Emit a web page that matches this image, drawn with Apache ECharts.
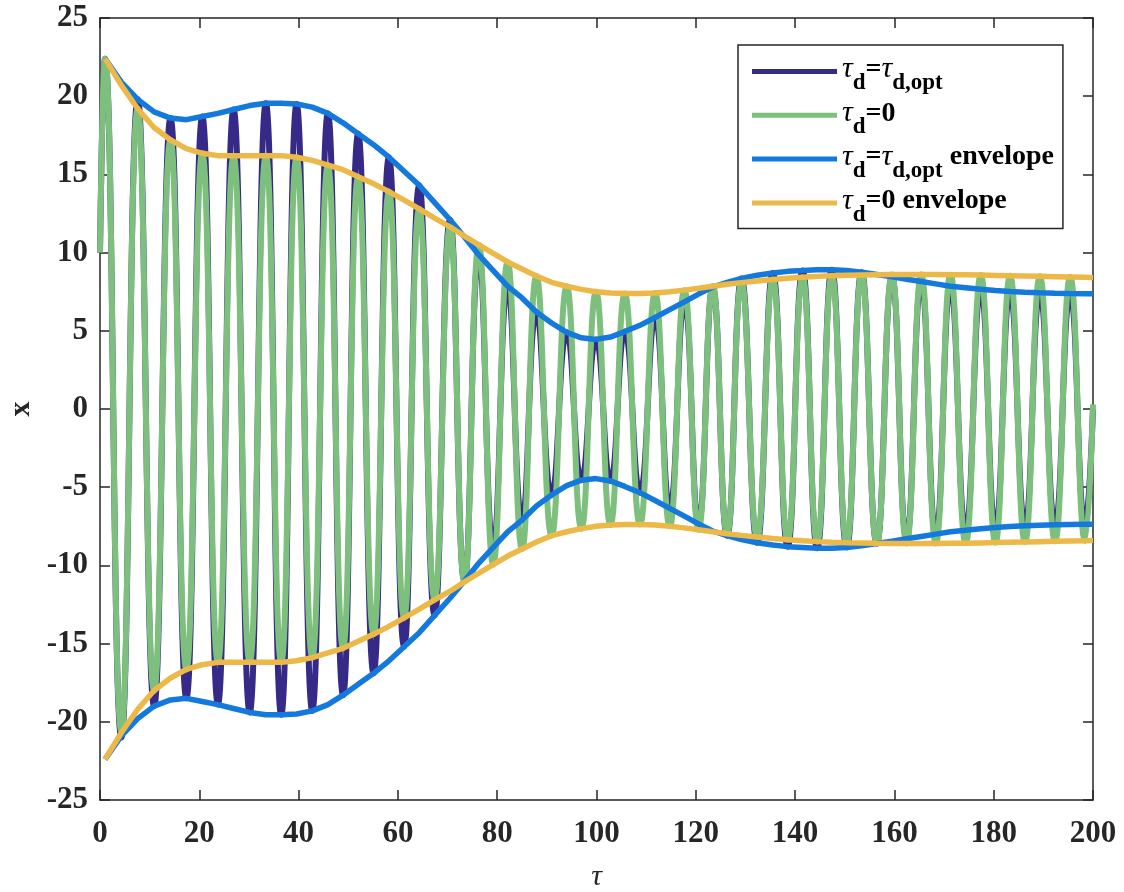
<!DOCTYPE html>
<html>
<head>
<meta charset="utf-8">
<script src="https://cdn.jsdelivr.net/npm/echarts@6/dist/echarts.min.js"></script>
<style>
  html, body { margin: 0; padding: 0; background: #ffffff; }
  #chart { width: 1124px; height: 892px; }
</style>
</head>
<body>
<div id="chart"></div>
<script>
// ---- data ----
// times (tau) of the start point, every extremum, and the end point
const extremaT = [0, 1.0, 4.3, 7.6, 10.9, 14.2, 17.4, 20.6, 23.75, 26.9,
  30.15, 33.4, 36.5, 39.6, 42.75, 45.9, 48.95, 52.0, 55.1, 58.2,
  61.25, 64.3, 67.4, 70.5, 73.4, 76.3, 79.2, 82.1, 85.0, 87.9,
  90.95, 94.0, 96.95, 99.9, 102.8, 105.7, 108.75, 111.8, 114.75, 117.7,
  120.55, 123.4, 126.3, 129.2, 132.35, 135.5, 138.5, 141.5, 144.45, 147.4,
  150.4, 153.4, 156.45, 159.5, 162.45, 165.4, 168.35, 171.3, 174.35, 177.4,
  180.35, 183.3, 186.3, 189.3, 192.35, 195.4, 198.4, 200];

// x for tau_d = tau_d,opt
const optX = [10, 22.4, -21.0, 19.8, -19.0, 18.6, -18.5, 18.7, -18.9, 19.15,
  -19.4, 19.55, -19.55, 19.5, -19.3, 18.9, -18.3, 17.6, -16.9, 16.1,
  -15.2, 14.3, -13.2, 12.1, -11.0, 9.85, -8.85, 7.85, -7.1, 6.2,
  -5.5, 4.9, -4.55, 4.45, -4.6, 4.95, -5.35, 5.85, -6.35, 6.85,
  -7.35, 7.8, -8.1, 8.35, -8.55, 8.7, -8.8, 8.85, -8.9, 8.9,
  -8.85, 8.75, -8.6, 8.45, -8.3, 8.15, -8.0, 7.85, -7.75, 7.65,
  -7.58, 7.52, -7.47, 7.43, -7.4, 7.38, -7.37, 0.0];

// x for tau_d = 0
const zeroX = [10, 22.4, -20.6, 19.2, -18.0, 17.2, -16.65, 16.35, -16.2, 16.2,
  -16.2, 16.2, -16.2, 16.1, -15.9, 15.6, -15.3, 14.85, -14.4, 13.9,
  -13.35, 12.8, -12.2, 11.65, -11.05, 10.5, -9.95, 9.4, -8.95, 8.5,
  -8.1, 7.85, -7.65, 7.5, -7.42, 7.38, -7.38, 7.42, -7.5, 7.6,
  -7.72, 7.85, -7.97, 8.08, -8.18, 8.28, -8.36, 8.43, -8.48, 8.52,
  -8.55, 8.57, -8.59, 8.6, -8.6, 8.6, -8.6, 8.59, -8.58, 8.56,
  -8.54, 8.52, -8.5, 8.48, -8.46, 8.44, -8.42, 0.3];

// envelope sample times and (upper) envelope magnitudes
const envT = [1.0, 4.3, 7.6, 10.9, 14.2, 17.4, 20.6, 23.75, 26.9,
  30.15, 33.4, 36.5, 39.6, 42.75, 45.9, 48.95, 52.0, 55.1, 58.2,
  61.25, 64.3, 67.4, 70.5, 73.4, 76.3, 79.2, 82.1, 85.0, 87.9,
  90.95, 94.0, 96.95, 99.9, 102.8, 105.7, 108.75, 111.8, 114.75, 117.7,
  120.55, 123.4, 126.3, 129.2, 132.35, 135.5, 138.5, 141.5, 144.45, 147.4,
  150.4, 153.4, 156.45, 159.5, 162.45, 165.4, 168.35, 171.3, 174.35, 177.4,
  180.35, 183.3, 186.3, 189.3, 192.35, 195.4, 198.4, 200];
const optEnv = [22.4, 20.9, 19.8, 19.0, 18.6, 18.5, 18.7, 18.9, 19.15,
  19.4, 19.55, 19.55, 19.5, 19.3, 18.9, 18.3, 17.6, 16.9, 16.1,
  15.2, 14.3, 13.2, 12.1, 11.0, 9.85, 8.85, 7.85, 7.1, 6.2,
  5.5, 4.9, 4.55, 4.45, 4.6, 4.95, 5.35, 5.85, 6.35, 6.85,
  7.35, 7.8, 8.1, 8.35, 8.55, 8.7, 8.8, 8.85, 8.9, 8.9,
  8.85, 8.75, 8.6, 8.45, 8.3, 8.15, 8.0, 7.85, 7.75, 7.65,
  7.58, 7.52, 7.47, 7.43, 7.4, 7.38, 7.37, 7.37];
const zeroEnv = [22.4, 20.7, 19.2, 18.0, 17.2, 16.65, 16.35, 16.2, 16.2,
  16.2, 16.2, 16.2, 16.1, 15.9, 15.6, 15.3, 14.85, 14.4, 13.9,
  13.35, 12.8, 12.2, 11.65, 11.05, 10.5, 9.95, 9.4, 8.95, 8.5,
  8.1, 7.85, 7.65, 7.5, 7.42, 7.38, 7.38, 7.42, 7.5, 7.6,
  7.72, 7.85, 7.97, 8.08, 8.18, 8.28, 8.36, 8.43, 8.48, 8.52,
  8.55, 8.57, 8.59, 8.6, 8.6, 8.6, 8.6, 8.59, 8.58, 8.56,
  8.54, 8.52, 8.5, 8.48, 8.46, 8.44, 8.42, 8.4];

const seriesNames = ['τd=τd,opt', 'τd=0', 'τd=τd,opt envelope', 'τd=0 envelope'];
const legendRich = {
  'τd=τd,opt': '{t|τ}{s|d}{b|=}{t|τ}{s|d,opt}',
  'τd=0': '{t|τ}{s|d}{b|=0}',
  'τd=τd,opt envelope': '{t|τ}{s|d}{b|=}{t|τ}{s|d,opt}{b| envelope}',
  'τd=0 envelope': '{t|τ}{s|d}{b|=0 envelope}'
};
const xTicks = { min: 0, max: 200, interval: 20 };
const yTicks = { min: -25, max: 25, interval: 5 };

// ---- chart ----
const pairs = (xs, ys) => xs.map((x, i) => [x, ys[i]]);
const neg = ys => ys.map(v => -v);

const AX = '#262626';
const FONT = "'Liberation Serif', 'Times New Roman', serif";
const colors = { opt: '#352a87', zero: '#7dc07d', optEnv: '#1479dd', zeroEnv: '#ecb948' };

const chart = echarts.init(document.getElementById('chart'), null, { renderer: 'canvas' });

const lineSeries = (name, data, color, width, smooth) => ({
  name, type: 'line', data, showSymbol: false, symbol: 'none', smooth: smooth,
  lineStyle: { color, width }, itemStyle: { color },
  xAxisIndex: 0, yAxisIndex: 0, animation: false, silent: true
});

const axisCommon = {
  axisLine: { show: true, onZero: false, lineStyle: { color: AX, width: 1.5 } },
  axisTick: { show: true, inside: true, length: 10, lineStyle: { color: AX, width: 1.5 } },
  splitLine: { show: false }
};

chart.setOption({
  backgroundColor: '#ffffff',
  animation: false,
  grid: { left: 100, right: 31, top: 18, bottom: 92, containLabel: false, outerBoundsMode: 'none' },
  xAxis: [
    Object.assign({
      type: 'value', position: 'bottom', min: xTicks.min, max: xTicks.max, interval: xTicks.interval,
      axisLabel: { color: AX, fontFamily: FONT, fontWeight: 'bold', fontSize: 31, margin: 18 },
      name: 'τ', nameLocation: 'middle', nameGap: 62,
      nameTextStyle: { color: AX, fontFamily: FONT, fontStyle: 'italic', fontSize: 30 }
    }, axisCommon),
    Object.assign({
      type: 'value', position: 'top', min: xTicks.min, max: xTicks.max, interval: xTicks.interval,
      axisLabel: { show: false }
    }, axisCommon)
  ],
  yAxis: [
    Object.assign({
      type: 'value', position: 'left', min: yTicks.min, max: yTicks.max, interval: yTicks.interval,
      axisLabel: { color: AX, fontFamily: FONT, fontWeight: 'bold', fontSize: 31, margin: 12 },
      name: 'x', nameLocation: 'middle', nameGap: 64, nameRotate: 90,
      nameTextStyle: { color: AX, fontFamily: FONT, fontWeight: 'bold', fontSize: 30 }
    }, axisCommon),
    Object.assign({
      type: 'value', position: 'right', min: yTicks.min, max: yTicks.max, interval: yTicks.interval,
      axisLabel: { show: false }
    }, axisCommon)
  ],
  legend: {
    data: seriesNames,
    orient: 'vertical',
    left: 738, top: 45,
    padding: [3, 9, 2, 14],
    itemGap: -3.2,
    itemWidth: 85, itemHeight: 5,
    icon: 'rect',
    backgroundColor: '#ffffff',
    borderColor: AX, borderWidth: 1.5, borderRadius: 0,
    selectedMode: false,
    formatter: name => legendRich[name],
    textStyle: {
      color: '#000000', fontFamily: FONT,
      rich: {
        t: { fontFamily: FONT, fontStyle: 'italic', fontWeight: 'normal', fontSize: 30, lineHeight: 28, padding: [0, 0, 4, 0], color: '#000' },
        b: { fontFamily: FONT, fontWeight: 'bold', fontSize: 28, lineHeight: 28, padding: [0, 0, 4, 0], color: '#000' },
        s: { fontFamily: FONT, fontWeight: 'bold', fontSize: 23, lineHeight: 10, padding: [24, 0, 0, 0], color: '#000' }
      }
    }
  },
  series: [
    lineSeries(seriesNames[0], pairs(extremaT, optX), colors.opt, 6, true),
    lineSeries(seriesNames[1], pairs(extremaT, zeroX), colors.zero, 6, true),
    lineSeries(seriesNames[2], pairs(envT, optEnv), colors.optEnv, 5.5, false),
    lineSeries(seriesNames[2], pairs(envT, neg(optEnv)), colors.optEnv, 5.5, false),
    lineSeries(seriesNames[3], pairs(envT, zeroEnv), colors.zeroEnv, 5.5, false),
    lineSeries(seriesNames[3], pairs(envT, neg(zeroEnv)), colors.zeroEnv, 5.5, false)
  ]
});
</script>
</body>
</html>
